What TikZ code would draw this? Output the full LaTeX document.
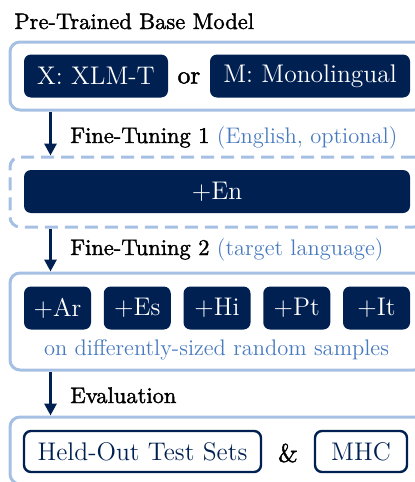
\documentclass[tikz,border=0pt]{standalone}
\usepackage{fontspec}
\usepackage{xcolor}
\usetikzlibrary{arrows.meta,positioning,calc}
\newfontfamily\heavyfont{lmroman10-regular.otf}[FakeBold=1.6]
\definecolor{navy}{RGB}{0,32,82}
\definecolor{paleblue}{RGB}{166,192,228}
\definecolor{softblue}{RGB}{72,122,192}
\newcommand{\boxfont}{\fontsize{12.75}{15}\selectfont}
\newcommand{\labelfont}{\fontsize{11.25}{13.5}\selectfont}

\begin{document}
\begin{tikzpicture}[x=0.5pt,y=-0.5pt,>={Triangle[width=6pt,length=6pt]},
	stage/.style={draw=paleblue,line width=1.5pt,rounded corners=5pt,inner sep=0pt},
	optstage/.style={stage,dash pattern=on 6.5pt off 3.5pt},
	model/.style={fill=navy,text=white,rounded corners=3.5pt,inner sep=0pt,font=\boxfont,minimum height=21.5pt},
	testset/.style={draw=navy,line width=1.2pt,text=navy,rounded corners=3.5pt,inner sep=0pt,font=\boxfont,minimum height=20.5pt},
	steplabel/.style={anchor=base west,inner sep=0pt,font=\heavyfont\labelfont},
	joiner/.style={inner sep=0pt,font=\heavyfont\boxfont},
	flow/.style={->,draw=navy,line width=1.5pt}]
\useasboundingbox (0,0) rectangle (415,482);
\clip (0,0) rectangle (415,482);

% base model
\node[steplabel] (title) at (14,29) {Pre-Trained Base Model};
\node[stage,minimum width=207pt,minimum height=34pt] (base) at (217,76) {};
\node[model,minimum width=72pt] (xlmt) at (96,76) {X: XLM-T};
\node[joiner] (or) at (189,78) {or};
\node[model,minimum width=100pt] (mono) at (310,76) {M: Monolingual};

% fine-tuning 1
\node[optstage,minimum width=207pt,minimum height=35pt] (stageEn) at (217,192) {};
\node[model,minimum width=193pt] (en) at (217,191.5) {+En};
\node[steplabel] (ftone) at (70,143) {Fine-Tuning 1 \textcolor{softblue}{\normalfont\labelfont(English, optional)}};

% fine-tuning 2
\node[stage,minimum width=207pt,minimum height=48.5pt] (stageLang) at (217,321.5) {};
\foreach \lang [count=\i from 0] in {Ar,Es,Hi,Pt,It}
	\node[model,minimum width=33.5pt] (ft-\lang) at (57.5+79.75*\i,308) {+\lang};
\node[inner sep=0pt,font=\labelfont,text=softblue] (samples) at (216.5,350) {on differently-sized random samples};
\node[steplabel] (fttwo) at (70,255) {Fine-Tuning 2 \textcolor{softblue}{\normalfont\labelfont(target language)}};

% evaluation
\node[stage,minimum width=207pt,minimum height=33.5pt] (stageEval) at (217,450.5) {};
\node[testset,minimum width=118.5pt] (heldout) at (142.5,451.5) {Held-Out Test Sets};
\node[joiner] (and) at (288,453) {\&};
\node[testset,minimum width=46pt] (mhc) at (361,451.5) {MHC};
\node[steplabel] (evallabel) at (70,403) {Evaluation};

\draw[flow]([xshift=21pt]base.south west)-- ([xshift=21pt]stageEn.north west);
\draw[flow]([xshift=21pt]stageEn.south west)-- ([xshift=21pt]stageLang.north west);
\draw[flow]([xshift=21pt]stageLang.south west)-- ([xshift=21pt]stageEval.north west);
\end{tikzpicture}
\end{document}
